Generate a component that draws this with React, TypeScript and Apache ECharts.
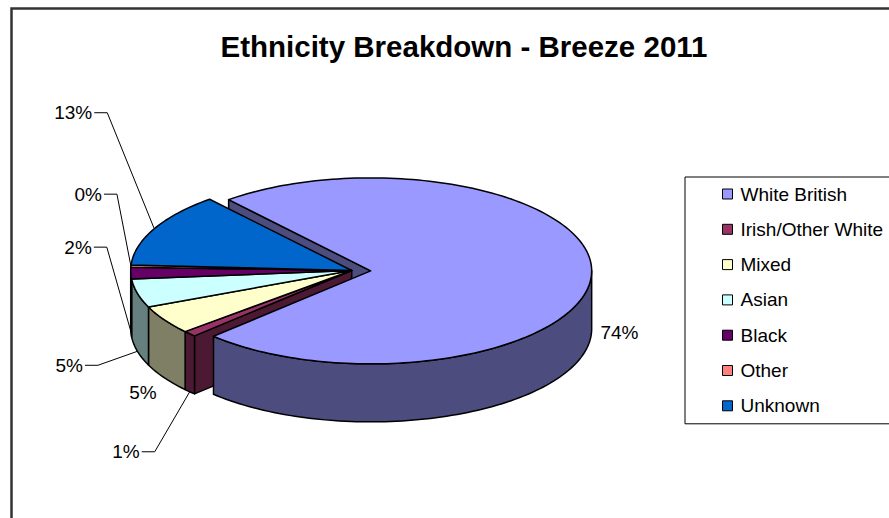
import React, { useEffect, useRef } from 'react';
import * as echarts from 'echarts';

// ---- data ----
const categories = ['White British', 'Irish/Other White', 'Mixed', 'Asian', 'Black', 'Other', 'Unknown'];
const values = [74, 1, 5, 5, 2, 0.4, 13];
const topColors = ['#9999FF', '#993366', '#FFFFCC', '#CCFFFF', '#660066', '#FF8080', '#0066CC'];
const sideColors = ['#4C4C7F', '#4C1933', '#7F7F66', '#667F7F', '#330033', '#7F4040', '#003366'];
const explode = [0.086, 0, 0, 0, 0, 0, 0];
const titleText = 'Ethnicity Breakdown - Breeze 2011';

// ---- label layout (offsets from rim anchor) ----
const labelOnBase = [true, true, true, true, true, false, false];
const labelDX = [9, -35, -21.5, -39.5, -24, -14, -47];
const labelDY = [-1, 60, 15, 14, -84, -72, -116];
const labelLeader = [false, true, false, true, true, true, true];
const labelAlign = ['left', 'right', 'center', 'right', 'right', 'right', 'right'];

// ---- pie geometry ----
const START_ANGLE = 320; // degrees clockwise from 12 o'clock
const CX = 351.7, CY = 270.5, RX = 221, RY = 93, DEPTH = 58;
const RAD = Math.PI / 180;

export default function App() {
  const ref = useRef<HTMLDivElement>(null);
  useEffect(() => {
    if (!ref.current) return;
    const chart = echarts.init(ref.current, undefined, { renderer: 'svg' });
    const total = values.reduce((a, b) => a + b, 0);
    const starts: number[] = [];
    const ends: number[] = [];
    let acc = START_ANGLE;
    values.forEach((v) => {
      starts.push(acc);
      acc += (v / total) * 360;
      ends.push(acc);
    });
    const n = values.length;

    const rimPt = (a: number, ox: number, oy: number, dz: number) => [
      CX + ox + RX * Math.sin(a * RAD),
      CY + oy - RY * Math.cos(a * RAD) + dz,
    ];
    const arc = (a0: number, a1: number, ox: number, oy: number, dz: number) => {
      const steps = Math.max(2, Math.ceil(Math.abs(a1 - a0) / 1.5));
      const pts: number[][] = [];
      for (let k = 0; k <= steps; k++) pts.push(rimPt(a0 + ((a1 - a0) * k) / steps, ox, oy, dz));
      return pts;
    };

    const renderItem = (params: any, api: any) => {
      const i = params.dataIndex;
      const a0 = starts[i];
      const a1 = ends[i];
      const mid = (a0 + a1) / 2;
      const ex = explode[i];
      const ox = Math.sin(mid * RAD) * RX * ex;
      const oy = -Math.cos(mid * RAD) * RY * ex;
      const c = [CX + ox, CY + oy];
      const children: any[] = [];
      const edge = { stroke: '#000', lineWidth: 1.5, lineJoin: 'round' };
      // top face
      children.push({
        type: 'polygon',
        z2: 30,
        shape: { points: [c, ...arc(a0, a1, ox, oy, 0)] },
        style: { fill: topColors[i], ...edge },
      });
      // outer wall (front half only)
      for (let k = 0; k < 2; k++) {
        const lo = Math.max(a0, 90 + 360 * k);
        const hi = Math.min(a1, 270 + 360 * k);
        if (hi > lo) {
          children.push({
            type: 'polygon',
            z2: 20,
            shape: { points: [...arc(lo, hi, ox, oy, 0), ...arc(hi, lo, ox, oy, DEPTH)] },
            style: { fill: sideColors[i], ...edge },
          });
        }
      }
      // radial faces next to exploded gaps
      const prevEx = explode[(i - 1 + n) % n] > 0;
      const nextEx = explode[(i + 1) % n] > 0;
      const face = (a: number) => {
        const t = rimPt(a, ox, oy, 0);
        const b = rimPt(a, ox, oy, DEPTH);
        return {
          type: 'polygon',
          z2: 10,
          shape: { points: [c, t, b, [c[0], c[1] + DEPTH]] },
          style: { fill: sideColors[i], ...edge },
        };
      };
      if ((ex > 0 || prevEx) && Math.sin(a0 * RAD) < 0) children.push(face(a0));
      if ((ex > 0 || nextEx) && Math.sin(a1 * RAD) > 0) children.push(face(a1));
      // label
      const pct = Math.round((api.value(0) / total) * 100) + '%';
      const anchor = rimPt(mid, ox, oy, labelOnBase[i] ? DEPTH : 0);
      const lp = [anchor[0] + labelDX[i], anchor[1] + labelDY[i]];
      const font = { fill: '#000', fontSize: 19, fontFamily: 'Liberation Sans, Arial, sans-serif' };
      if (labelLeader[i]) {
        children.push({
          type: 'polyline',
          z2: 40,
          shape: { points: [anchor, lp, [lp[0] - 13, lp[1]]] },
          style: { stroke: '#000', lineWidth: 1, fill: null },
        });
        children.push({
          type: 'text',
          z2: 40,
          style: { text: pct, x: lp[0] - 15, y: lp[1], align: 'right', verticalAlign: 'middle', ...font },
        });
      } else {
        children.push({
          type: 'text',
          z2: 40,
          style: { text: pct, x: lp[0], y: lp[1], align: labelAlign[i], verticalAlign: 'middle', ...font },
        });
      }
      return { type: 'group', children };
    };

    chart.setOption({
      animation: false,
      backgroundColor: '#fff',
      title: {
        text: titleText,
        left: 459,
        top: 26,
        textAlign: 'center',
        textStyle: { fontSize: 29.5, fontWeight: 'bold', fontFamily: 'Liberation Sans, Arial, sans-serif', color: '#000' },
      },
      legend: {
        data: categories,
        orient: 'vertical',
        left: 685,
        top: 177,
        padding: [7, 60, 8, 37],
        itemGap: 15.3,
        itemWidth: 10,
        itemHeight: 10,
        icon: 'rect',
        borderColor: '#000',
        borderWidth: 1,
        backgroundColor: '#fff',
        itemStyle: { borderColor: '#000', borderWidth: 1 },
        textStyle: {
          fontSize: 19, lineHeight: 20, color: '#000',
          fontFamily: 'Liberation Sans, Arial, sans-serif', padding: [0, 0, 0, 3],
        },
        selectedMode: false,
      },
      graphic: [
        {
          type: 'rect',
          left: 9, top: 6,
          shape: { x: 0, y: 0, width: 1000, height: 1000 },
          style: { fill: 'none', stroke: '#333', lineWidth: 2.5 },
          silent: true,
          z: -1,
        },
      ],
      series: [
        {
          type: 'custom',
          name: 'pie3d',
          coordinateSystem: 'none',
          renderItem,
          data: values.map((v, i) => ({ name: categories[i], value: v })),
          silent: true,
        },
        {
          type: 'pie',
          name: 'legendProxy',
          radius: 1,
          center: [-50, -50],
          label: { show: false },
          labelLine: { show: false },
          silent: true,
          data: values.map((v, i) => ({ name: categories[i], value: v, itemStyle: { color: topColors[i] } })),
        },
      ],
    });
    return () => chart.dispose();
  }, []);
  return (
    <div
      ref={ref}
      style={{ position: 'fixed', left: 0, top: 0, width: 889, height: 518, background: '#fff' }}
    />
  );
}
